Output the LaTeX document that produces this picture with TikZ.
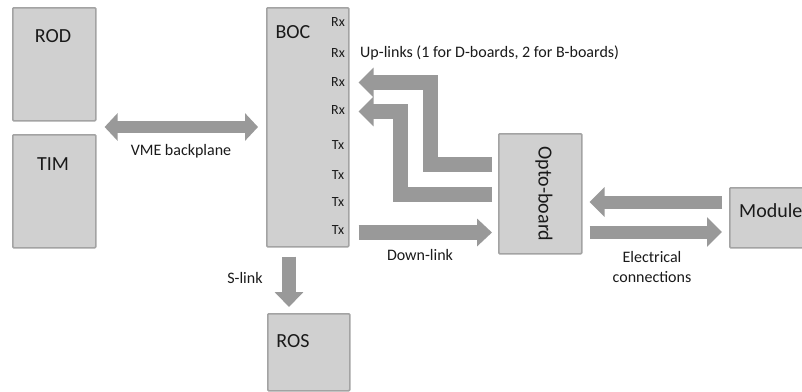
\documentclass[tikz,border=0pt]{standalone}
\usepackage{fontspec}
\setmainfont{Carlito}
\usetikzlibrary{arrows.meta}
\definecolor{boxfill}{HTML}{D0D0D0}
\definecolor{boxline}{HTML}{A3A3A3}
\definecolor{arrowgray}{HTML}{999999}
\definecolor{txt}{HTML}{1A1A1A}
\tikzset{
  box/.style={draw=boxline, fill=boxfill, line width=1.6pt, rounded corners=1pt, anchor=north west, inner sep=0pt},
  big/.style={font=\fontsize{20}{22}\selectfont, text=txt, inner sep=0pt},
  mid/.style={font=\fontsize{16}{19}\selectfont, text=txt, inner sep=0pt},
  port/.style={font=\fontsize{14}{16}\selectfont, text=txt, inner sep=0pt, anchor=base},
  bigarrow/.style={draw=arrowgray, line width=15pt, line join=miter,
    -{Triangle[length=15pt, width=29pt]}},
}
\begin{document}
\begin{tikzpicture}[x=1pt, y=-1pt]
\clip (0,0) rectangle (802,391);
\fill[white] (0,0) rectangle (802,391);

% boxes
\node[box, minimum width=83pt, minimum height=113pt] (rod) at (12,7) {};
\node[box, minimum width=83pt, minimum height=113pt] (tim) at (12,134) {};
\node[box, minimum width=82pt, minimum height=239pt] (boc) at (266,7) {};
\node[box, minimum width=82pt, minimum height=77pt] (ros) at (267,313) {};
\node[box, minimum width=83pt, minimum height=120pt] (opto) at (498,133) {};
\node[box, minimum width=100pt, minimum height=60pt] (mod) at (729,187) {};

% box labels
\node[big, anchor=base] at (53,42) {ROD};
\node[big, anchor=base] at (53,170) {TIM};
\node[big, anchor=base] at (293,38) {BOC};
\node[big, anchor=base] at (293,347) {ROS};
\node[big, rotate=-90] at (544,194) {Opto-board};
\node[big, anchor=base west] at (739,217) {Module};

% ports
\node[port] at (338,26) {Rx};
\node[port] at (338,57) {Rx};
\node[port] at (338,86) {Rx};
\node[port] at (338,114) {Rx};
\node[port] at (338,149) {Tx};
\node[port] at (338,179) {Tx};
\node[port] at (338,206) {Tx};
\node[port] at (338,234) {Tx};

% VME backplane double arrow
\draw[draw=arrowgray, line width=12pt,
  {Triangle[length=13pt, width=27pt]}-{Triangle[length=13pt, width=27pt]}]
  ([xshift=8pt]rod.east |- 0,127) -- ([xshift=-8pt]boc.west |- 0,127);
\node[mid, anchor=base] at (181,155) {VME backplane};

% up-links
\draw[bigarrow] ([xshift=-6pt]opto.west |- 0,164.5) -| (430.5,82.5) -- ([xshift=9pt]boc.east |- 0,82.5);
\draw[bigarrow] ([xshift=-6pt]opto.west |- 0,194.5) -| (400.5,111.5) -- ([xshift=9pt]boc.east |- 0,111.5);
\node[mid, anchor=base west] at (360,57) {Up-links (1 for D-boards, 2 for B-boards)};

% down-link
\draw[draw=arrowgray, line width=15pt, -{Triangle[length=15pt, width=27pt]}]
  ([xshift=9pt]boc.east |- 0,232.5) -- ([xshift=-6pt]opto.west |- 0,232.5);
\node[mid, anchor=base] at (420,260) {Down-link};

% S-link
\draw[draw=arrowgray, line width=14pt, -{Triangle[length=15pt, width=28pt]}]
  ([yshift=-9pt]boc.south -| 289,0) -- ([yshift=6pt]ros.north -| 289,0);
\node[mid, anchor=base] at (245,283) {S-link};

% electrical connections
\draw[draw=arrowgray, line width=13pt, -{Triangle[length=15pt, width=29pt]}]
  ([xshift=-7pt]mod.west |- 0,202) -- ([xshift=7pt]opto.east |- 0,202);
\draw[draw=arrowgray, line width=13pt, -{Triangle[length=15pt, width=29pt]}]
  ([xshift=7pt]opto.east |- 0,232) -- ([xshift=-7pt]mod.west |- 0,232);
\node[mid, anchor=base] at (652,262) {Electrical};
\node[mid, anchor=base] at (652,282) {connections};
\end{tikzpicture}
\end{document}
